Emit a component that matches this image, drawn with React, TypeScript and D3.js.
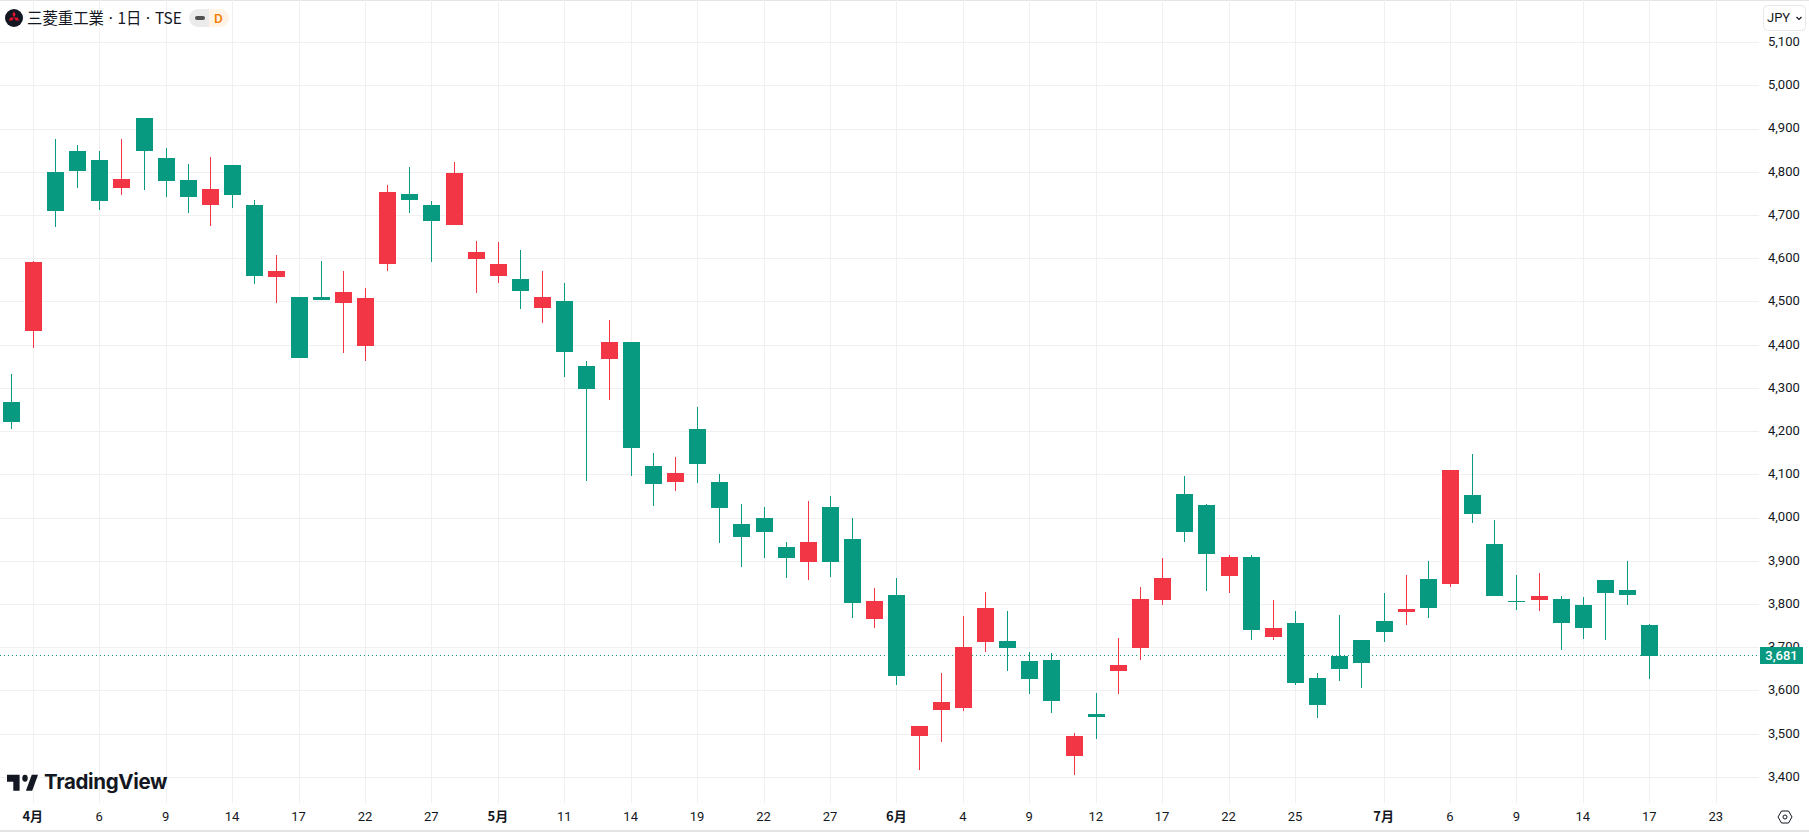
import { scaleLinear, format, range } from 'd3'

const opens = [4268, 4432, 4800, 4849, 4828, 4763, 4925, 4833, 4782, 4724, 4817, 4724, 4557, 4511, 4511, 4497, 4398, 4587, 4749, 4724, 4678, 4599, 4560, 4553, 4486, 4502, 4351, 4368, 4407, 4120, 4083, 4206, 4083, 3986, 4000, 3933, 3898, 4025, 3951, 3766, 3822, 3495, 3556, 3560, 3713, 3715, 3669, 3671, 3449, 3546, 3646, 3699, 3810, 4055, 4030, 3866, 3910, 3724, 3757, 3630, 3681, 3718, 3762, 3782, 3859, 3847, 4053, 3940, 3808, 3810, 3812, 3799, 3856, 3833, 3752]
const closes = [4222, 4592, 4710, 4803, 4733, 4784, 4849, 4780, 4743, 4761, 4747, 4560, 4571, 4370, 4504, 4523, 4509, 4754, 4736, 4687, 4798, 4615, 4587, 4525, 4511, 4384, 4298, 4407, 4162, 4079, 4104, 4125, 4023, 3956, 3967, 3907, 3944, 3898, 3803, 3808, 3634, 3519, 3574, 3701, 3792, 3699, 3627, 3576, 3495, 3539, 3660, 3812, 3861, 3967, 3917, 3910, 3741, 3745, 3618, 3567, 3650, 3664, 3736, 3789, 3792, 4111, 4009, 3819, 3805, 3819, 3757, 3745, 3826, 3822, 3681]
const highs = [4333, 4594, 4877, 4863, 4849, 4877, 4925, 4856, 4819, 4835, 4817, 4736, 4608, 4511, 4594, 4571, 4532, 4770, 4812, 4733, 4824, 4641, 4638, 4620, 4571, 4543, 4363, 4458, 4407, 4150, 4141, 4257, 4102, 4032, 4025, 3944, 4039, 4051, 4000, 3838, 3861, 3519, 3641, 3773, 3829, 3785, 3690, 3688, 3502, 3595, 3722, 3840, 3907, 4097, 4032, 3914, 3914, 3810, 3785, 3641, 3775, 3718, 3826, 3868, 3900, 4111, 4148, 3995, 3868, 3873, 3819, 3817, 3856, 3900, 3755]
const lows = [4206, 4393, 4673, 4763, 4712, 4747, 4759, 4743, 4706, 4675, 4717, 4541, 4497, 4370, 4504, 4382, 4363, 4571, 4706, 4592, 4678, 4520, 4543, 4483, 4451, 4326, 4085, 4273, 4097, 4028, 4062, 4081, 3942, 3886, 3907, 3861, 3856, 3863, 3768, 3745, 3613, 3417, 3482, 3553, 3690, 3646, 3593, 3549, 3405, 3489, 3593, 3671, 3799, 3944, 3831, 3826, 3718, 3718, 3613, 3537, 3623, 3607, 3713, 3752, 3768, 3840, 3988, 3819, 3787, 3785, 3694, 3720, 3718, 3799, 3627]

const priceTicks = [5100, 5000, 4900, 4800, 4700, 4600, 4500, 4400, 4300, 4200, 4100, 4000, 3900, 3800, 3700, 3600, 3500, 3400]
const timeTickIndex = [1, 4, 7, 10, 13, 16, 19, 22, 25, 28, 31, 34, 37, 40, 43, 46, 49, 52, 55, 58, 62, 65, 68, 71, 74, 77]
const timeTickLabels = ['4月', '6', '9', '14', '17', '22', '27', '5月', '11', '14', '19', '22', '27', '6月', '4', '9', '12', '17', '22', '25', '7月', '6', '9', '14', '17', '23']
const lastPrice = 3681

const WIDTH = 1809
const HEIGHT = 833
const PLOT_RIGHT = 1759
const PLOT_BOTTOM = 803
const UP = '#f23645'
const DOWN = '#089981'
const GRID = '#f0f0f1'
const TEXT = '#131722'
const AXIS_FONT = 'Roboto, sans-serif'

const x = scaleLinear().domain([0, 74]).range([11.15, 1649.8])
const y = scaleLinear().domain([3400, 5100]).range([777.34, 42.6])
const priceFormat = format(',')

export default function App() {
  const lastY = Math.floor(y(lastPrice)) + 0.5

  return (
    <svg
      width={WIDTH}
      height={HEIGHT}
      viewBox={`0 0 ${WIDTH} ${HEIGHT}`}
      style={{ position: 'absolute', left: 0, top: 0, display: 'block', background: '#fff' }}
    >
      <line x1={0} x2={WIDTH} y1={0.5} y2={0.5} stroke="#e4e4e6" />
      <line x1={0} x2={WIDTH} y1={831} y2={831} stroke="#e4e4e6" strokeWidth={2} />

      {/* grid */}
      <g shapeRendering="crispEdges">
        {priceTicks.map((p) => (
          <line key={p} x1={0} x2={PLOT_RIGHT} y1={Math.floor(y(p)) + 0.5} y2={Math.floor(y(p)) + 0.5} stroke={GRID} />
        ))}
        {timeTickIndex.map((i) => (
          <line key={i} x1={Math.floor(x(i)) + 0.5} x2={Math.floor(x(i)) + 0.5} y1={0} y2={PLOT_BOTTOM} stroke={GRID} />
        ))}
      </g>

      {/* last price line sits under the candles */}
      <line x1={0} x2={PLOT_RIGHT} y1={lastY} y2={lastY} stroke={DOWN} strokeDasharray="1 3" />

      {/* candles */}
      <g shapeRendering="crispEdges">
        {range(opens.length).map((i) => {
          const color = closes[i] > opens[i] ? UP : DOWN
          const col = Math.floor(x(i))
          const top = Math.round(y(Math.max(opens[i], closes[i])))
          const bottom = Math.round(y(Math.min(opens[i], closes[i])))
          return (
            <g key={i} fill={color}>
              <rect x={col} y={Math.round(y(highs[i]))} width={1} height={Math.max(1, Math.round(y(lows[i])) - Math.round(y(highs[i])))} />
              <rect x={col - 8} y={top} width={17} height={Math.max(1, bottom - top)} />
            </g>
          )
        })}
      </g>

      {/* price axis */}
      <g fontFamily={AXIS_FONT} fontSize={13} fill={TEXT}>
        {priceTicks.map((p) => (
          <text key={p} x={1768} y={y(p) + 3.4}>
            {priceFormat(p)}
          </text>
        ))}
      </g>
      <rect x={1760} y={647} width={43} height={17} fill={DOWN} />
      <text x={1781.5} y={lastY + 4.4} textAnchor="middle" fontFamily={AXIS_FONT} fontSize={13} fontWeight={500} fill="#fff">
        {priceFormat(lastPrice)}
      </text>

      {/* time axis */}
      <g fontFamily={AXIS_FONT} fontSize={13} fill={TEXT} textAnchor="middle">
        {timeTickIndex.map((i, k) => (
          <text key={i} x={x(i) - 0.5} y={821} fontWeight={timeTickLabels[k].includes('月') ? 700 : 400} fontFamily={timeTickLabels[k].includes('月') ? "'Noto Sans CJK JP', sans-serif" : AXIS_FONT}>
            {timeTickLabels[k]}
          </text>
        ))}
      </g>

      {/* legend */}
      <circle cx={14} cy={18} r={9} fill={TEXT} />
      <g fill="#e8112d">
        <path d="M14 11.5l1.7 2.9-1.7 2.9-1.7-2.9z" />
        <path d="M14 17.5h3.6l1.7 3h-3.6z" />
        <path d="M14 17.5h-3.6l-1.7 3h3.6z" />
      </g>
      <text x={27} y={24} fontFamily="'Noto Sans CJK JP', sans-serif" fontSize={15.4} fill={TEXT} wordSpacing={-1}>
        三菱重工業 · 1日 · TSE
      </text>
      <path d="M198 9h11v18h-11a9 9 0 0 1 0-18z" fill="#ebebeb" />
      <path d="M209 9h11a9 9 0 0 1 0 18h-11z" fill="#fff3e5" />
      <rect x={195} y={16} width={10} height={4} rx={2} fill="#505050" />
      <text x={218.5} y={23} textAnchor="middle" fontFamily={AXIS_FONT} fontSize={13.5} fontWeight={500} fill="#f57c00">
        D
      </text>

      {/* currency button */}
      <rect x={1763.5} y={5.5} width={42} height={25} rx={4} fill="#fff" stroke="#e8e8ea" />
      <text x={1767} y={22} fontFamily={AXIS_FONT} fontSize={13} fill={TEXT}>
        JPY
      </text>
      <path d="M1796.5 17l2.5 2.5 2.5-2.5" fill="none" stroke={TEXT} strokeWidth={1.2} />

      {/* settings */}
      <path d="M1778 817l3.5-6h7l3.5 6-3.5 6h-7z" fill="none" stroke={TEXT} strokeWidth={1} />
      <circle cx={1785} cy={817} r={2} fill="none" stroke={TEXT} strokeWidth={1} />

      {/* logo */}
      <g transform="translate(7 768) scale(0.9 1.14)" fill={TEXT}>
        <path d="M14 6H0v6h7v8h7V6Z" />
        <circle cx={20} cy={9} r={3} />
        <path d="M28 20h-7l6.5-14h7L28 20Z" />
      </g>
      <text x={44} y={789} fontFamily="Inter, sans-serif" fontSize={20.5} fontWeight={700} fill={TEXT} letterSpacing={-0.35}>
        TradingView
      </text>
    </svg>
  )
}
